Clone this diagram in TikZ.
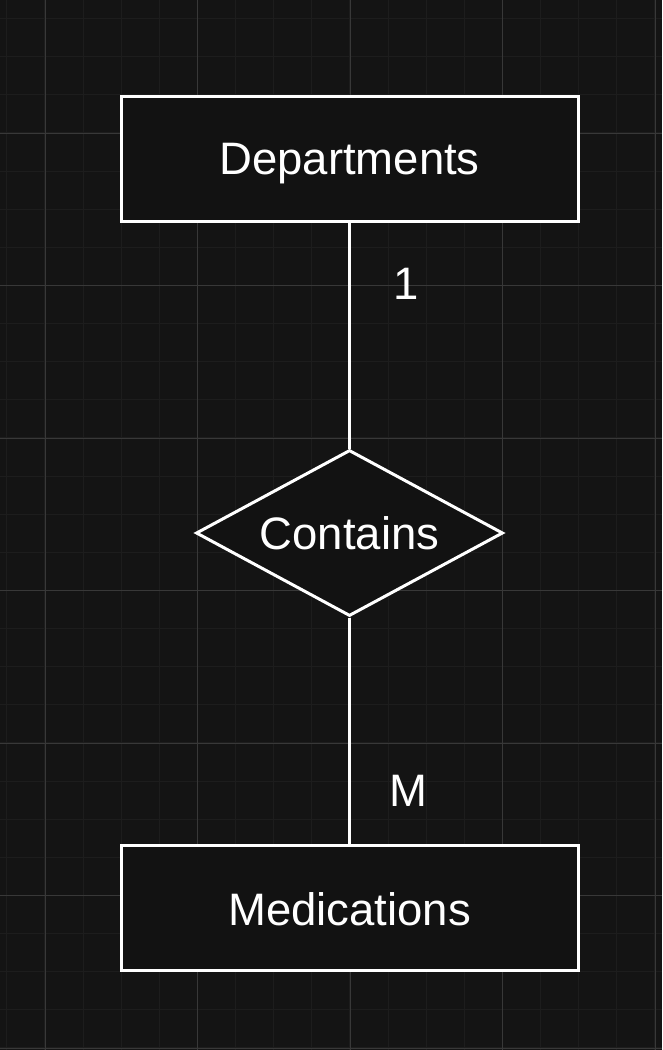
\documentclass[tikz,border=0pt]{standalone}
\usepackage{fontspec}
\setmainfont{Liberation Sans}
\usetikzlibrary{shapes.geometric}
\definecolor{bgc}{HTML}{141414}
\definecolor{minorc}{HTML}{1D1D1D}
\definecolor{majorc}{HTML}{383838}
\definecolor{fillc}{HTML}{121212}
\tikzset{
  entity/.style={draw=white, fill=fillc, line width=3pt, minimum width=457pt, minimum height=125pt, inner sep=0pt, text=white, text height=32pt, text depth=0pt, font=\fontsize{45.5}{54}\selectfont},
  relation/.style={draw=white, fill=fillc, line width=3pt, diamond, aspect=1.85, minimum width=307pt, minimum height=166pt, inner sep=0pt, text=white, text height=32pt, text depth=0pt, font=\fontsize{45.5}{54}\selectfont},
  conn/.style={draw=white, line width=3pt},
  card/.style={text=white, font=\fontsize{45.5}{54}\selectfont, inner sep=0pt, text height=32pt, text depth=0pt}
}
\begin{document}
\begin{tikzpicture}[x=1pt,y=-1pt]
\fill[bgc] (0,0) rectangle (662,1050);
\useasboundingbox (0,0) rectangle (662,1050);
% minor grid
\foreach \i in {0,...,17} {
  \draw[minorc, line width=1.2pt] ({6.875+38.125*\i},0) -- ({6.875+38.125*\i},1050);
}
\foreach \i in {0,...,27} {
  \draw[minorc, line width=1.2pt] (0,{18.6+38.125*\i}) -- (662,{18.6+38.125*\i});
}
% major grid
\foreach \i in {0,...,4} {
  \draw[majorc, line width=1pt] ({45+152.5*\i},0) -- ({45+152.5*\i},1050);
}
\foreach \i in {0,...,6} {
  \draw[majorc, line width=1pt] (0,{133+152.5*\i}) -- (662,{133+152.5*\i});
}
\node[entity] (dep) at (349.5,158.5) {Departments};
\node[relation] (con) at (349.5,533) {Contains};
\node[entity, text height=34pt] (med) at (349.5,908) {Medications};
\draw[conn] (dep.south) -- (con.north);
\draw[conn] (con.south) -- (med.north);
\node[card] (one) at (406,283) {1};
\node[card] (many) at (408,790) {M};
\end{tikzpicture}
\end{document}
